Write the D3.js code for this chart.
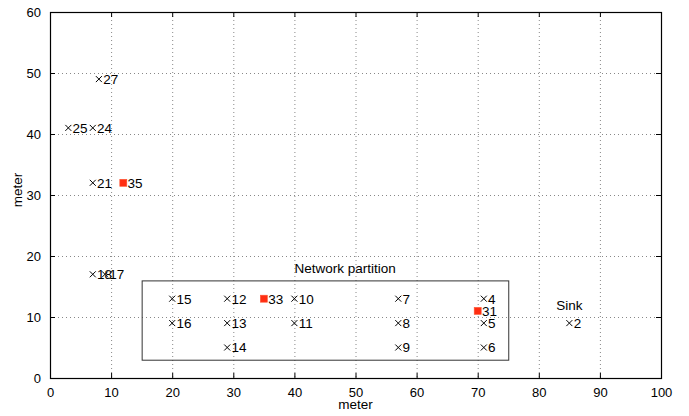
<!DOCTYPE html>
<html>
<head>
<meta charset="utf-8">
<script src="https://cdn.jsdelivr.net/npm/d3@7"></script>
<style>
  body { margin: 0; background: #fff; }
  text { font-family: "Liberation Sans", Arial, sans-serif; fill: #000; }
</style>
</head>
<body>
<svg id="chart" width="689" height="416"></svg>
<script>
// sensor nodes
var nodeIds = [27, 25, 24, 21, 18, 17, 15, 16, 12, 13, 14, 10, 11, 7, 8, 9, 4, 5, 6, 2];
var nodeX   = [ 8,  3,  7,  7,  7,  9, 20, 20, 29, 29, 29, 40, 40, 57, 57, 57, 71, 71, 71, 85];
var nodeY   = [49, 41, 41, 32, 17, 17, 13,  9, 13,  9,  5, 13,  9, 13,  9,  5, 13,  9,  5,  9];

// cluster heads (red)
var headIds = [35, 33, 31];
var headX   = [12, 35, 70];
var headY   = [32, 13, 11];

var xTicks = [0, 10, 20, 30, 40, 50, 60, 70, 80, 90, 100];
var yTicks = [0, 10, 20, 30, 40, 50, 60];

// partition box [x0, y0, x1, y1]
var partBox = [15, 3, 75, 16];

var svg = d3.select('#chart');
var pLeft = 50, pTop = 12, pRight = 661, pBottom = 378;

var x = d3.scaleLinear().domain([0, 100]).range([pLeft, pRight]);
var y = d3.scaleLinear().domain([0, 60]).range([pBottom, pTop]);

// grid
var grid = svg.append('g').attr('stroke', '#888').attr('stroke-dasharray', '1,3').attr('stroke-width', 1);
grid.selectAll('.gx').data(xTicks.slice(1, -1)).enter().append('line')
    .attr('x1', function(d){ return x(d) + 0.5; }).attr('x2', function(d){ return x(d) + 0.5; })
    .attr('y1', pTop).attr('y2', pBottom);
grid.selectAll('.gy').data(yTicks.slice(1, -1)).enter().append('line')
    .attr('y1', function(d){ return y(d) + 0.5; }).attr('y2', function(d){ return y(d) + 0.5; })
    .attr('x1', pLeft).attr('x2', pRight);

// axes
svg.append('g').attr('transform', 'translate(0,' + pBottom + ')')
    .call(d3.axisBottom(x).tickValues(xTicks).tickSizeInner(-5).tickSizeOuter(0).tickPadding(10));
svg.append('g').attr('transform', 'translate(' + pLeft + ',0)')
    .call(d3.axisLeft(y).tickValues(yTicks).tickSizeInner(-5).tickSizeOuter(0).tickPadding(9));
svg.append('g').attr('transform', 'translate(0,' + pTop + ')')
    .call(d3.axisTop(x).tickValues(xTicks).tickSizeInner(-5).tickSizeOuter(0).tickFormat(''));
svg.append('g').attr('transform', 'translate(' + pRight + ',0)')
    .call(d3.axisRight(y).tickValues(yTicks).tickSizeInner(-5).tickSizeOuter(0).tickFormat(''));
svg.selectAll('.domain').remove();
svg.selectAll('.tick text').style('font-size', '13px').style('font-family', '"Liberation Sans", Arial, sans-serif');

svg.append('rect').attr('x', pLeft + 0.5).attr('y', pTop + 0.5)
    .attr('width', pRight - pLeft).attr('height', pBottom - pTop)
    .attr('fill', 'none').attr('stroke', '#000').attr('stroke-width', 1.2);

// partition box
svg.append('rect')
    .attr('x', x(partBox[0]) + 0.5).attr('y', y(partBox[3]) + 0.5)
    .attr('width', x(partBox[2]) - x(partBox[0])).attr('height', y(partBox[1]) - y(partBox[3]))
    .attr('fill', 'none').attr('stroke', '#333').attr('stroke-width', 1);

svg.append('text').attr('x', x(40)).attr('y', y(18)).attr('dy', '0.35em')
    .style('font-size', '13.5px').text('Network partition');
svg.append('text').attr('x', x(85)).attr('y', y(12)).attr('dy', '0.35em')
    .attr('text-anchor', 'middle').style('font-size', '13.5px').text('Sink');

// nodes
var nodes = nodeIds.map(function(id, i){ return {id: id, x: nodeX[i], y: nodeY[i]}; });
var heads = headIds.map(function(id, i){ return {id: id, x: headX[i], y: headY[i]}; });

var ng = svg.selectAll('.node').data(nodes).enter().append('g')
    .attr('transform', function(d){ return 'translate(' + x(d.x) + ',' + y(d.y) + ')'; });
ng.append('path').attr('d', 'M-3,-3L3,3M-3,3L3,-3').attr('stroke', '#000').attr('stroke-width', 1);

var hg = svg.selectAll('.head').data(heads).enter().append('g')
    .attr('transform', function(d){ return 'translate(' + x(d.x) + ',' + y(d.y) + ')'; });
hg.append('rect').attr('x', -3.5).attr('y', -3.5).attr('width', 7).attr('height', 7)
    .attr('fill', '#ff2e12').attr('stroke', '#ff5533').attr('stroke-width', 0.6);

svg.selectAll('.lbl').data(nodes.concat(heads)).enter().append('text')
    .attr('x', function(d){ return x(d.x + 0.7); })
    .attr('y', function(d){ return y(d.y); })
    .attr('dy', '0.36em')
    .style('font-size', '13.5px')
    .text(function(d){ return d.id; });

// axis labels
svg.append('text').attr('x', (pLeft + pRight) / 2).attr('y', 409)
    .attr('text-anchor', 'middle').style('font-size', '13.5px').text('meter');
svg.append('text').attr('transform', 'translate(22,' + 190 + ') rotate(-90)')
    .attr('text-anchor', 'middle').style('font-size', '13.5px').text('meter');
</script>
</body>
</html>
